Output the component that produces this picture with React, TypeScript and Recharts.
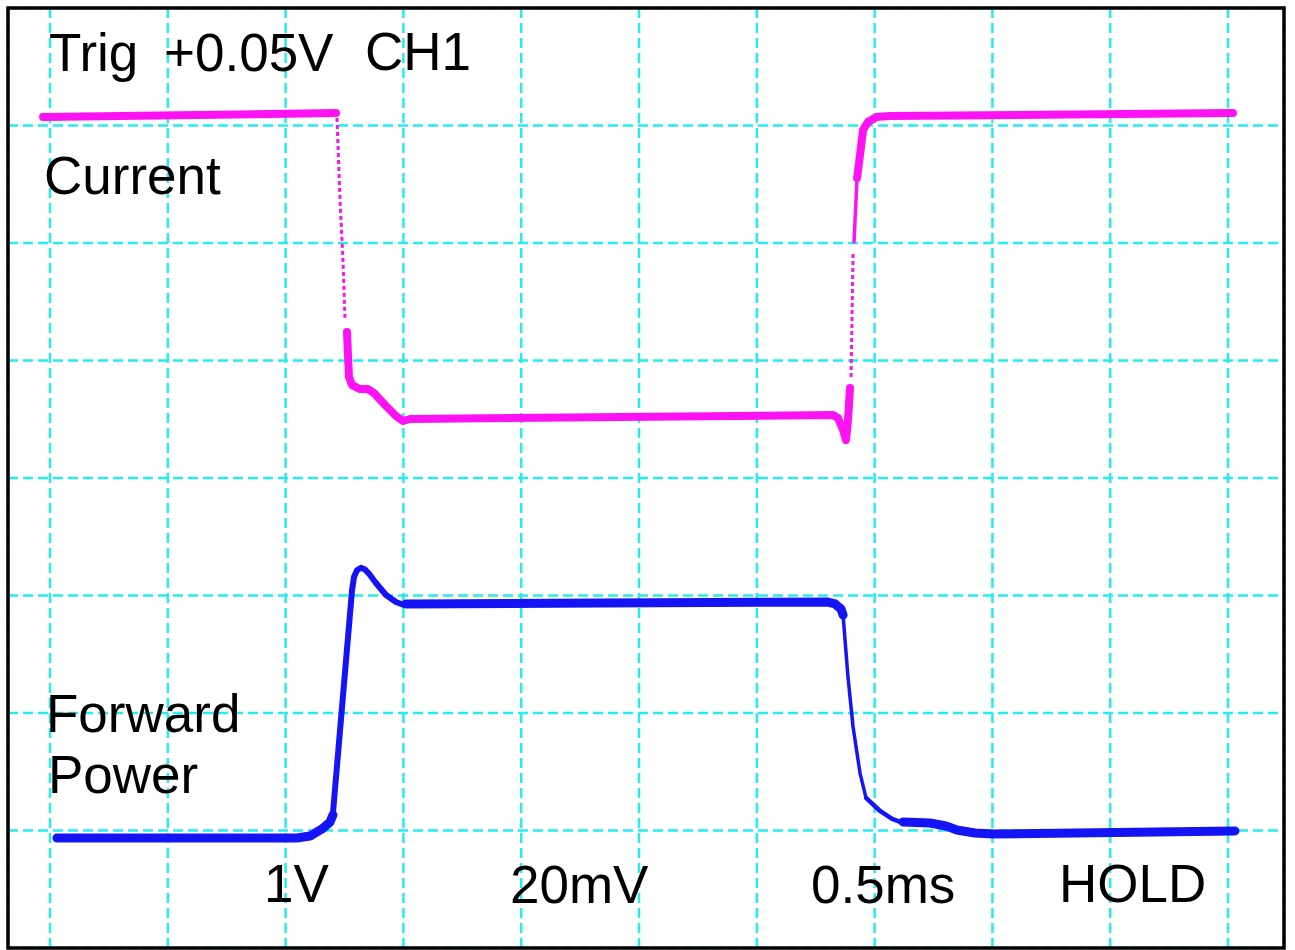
import { LineChart, Line, XAxis, YAxis, CartesianGrid, ReferenceArea } from "recharts"

// x in divisions (0.5ms/div), y in divisions from bottom of screen
type Pt = { x: number; y: number }

const xTicks = [0, 1, 2, 3, 4, 5, 6, 7, 8, 9, 10]
const yTicks = [1, 2, 3, 4, 5, 6, 7]

// Current (CH1) trace pieces
const currentHigh: Pt[] = [
  { x: -0.059, y: 7.072 },
  { x: 2.428, y: 7.106 },
]
const currentFallDots: Pt[] = [
  { x: 2.436, y: 7.064 },
  { x: 2.462, y: 6.366 },
  { x: 2.487, y: 5.855 },
  { x: 2.504, y: 5.362 },
]
const currentLow: Pt[] = [
  { x: 2.521, y: 5.243 },
  { x: 2.538, y: 4.86 },
  { x: 2.564, y: 4.791 },
  { x: 2.632, y: 4.757 },
  { x: 2.699, y: 4.757 },
  { x: 2.75, y: 4.723 },
  { x: 2.844, y: 4.621 },
  { x: 2.937, y: 4.528 },
  { x: 2.997, y: 4.485 },
  { x: 3.056, y: 4.502 },
  { x: 6.647, y: 4.536 },
  { x: 6.689, y: 4.511 },
  { x: 6.732, y: 4.409 },
  { x: 6.757, y: 4.323 },
  { x: 6.774, y: 4.494 },
  { x: 6.791, y: 4.766 },
]
const currentRiseDots: Pt[] = [
  { x: 6.8, y: 4.86 },
  { x: 6.817, y: 5.923 },
]
const currentRiseThin: Pt[] = [
  { x: 6.825, y: 6.009 },
  { x: 6.851, y: 6.553 },
]
const currentHigh2: Pt[] = [
  { x: 6.851, y: 6.553 },
  { x: 6.876, y: 6.749 },
  { x: 6.902, y: 6.962 },
  { x: 6.944, y: 7.03 },
  { x: 7.012, y: 7.072 },
  { x: 7.131, y: 7.081 },
  { x: 10.042, y: 7.106 },
]

// Forward power trace pieces
const powerLow: Pt[] = [
  { x: 0.059, y: 0.936 },
  { x: 2.097, y: 0.936 },
  { x: 2.207, y: 0.953 },
  { x: 2.309, y: 1.013 },
  { x: 2.377, y: 1.072 },
  { x: 2.402, y: 1.132 },
]
const powerRise: Pt[] = [
  { x: 2.402, y: 1.149 },
  { x: 2.564, y: 3.047 },
  { x: 2.581, y: 3.16 },
  { x: 2.606, y: 3.215 },
  { x: 2.64, y: 3.236 },
  { x: 2.674, y: 3.222 },
  { x: 2.708, y: 3.185 },
  { x: 2.767, y: 3.106 },
  { x: 2.852, y: 3.004 },
  { x: 2.937, y: 2.945 },
  { x: 3.005, y: 2.919 },
]
const powerHigh: Pt[] = [
  { x: 3.022, y: 2.928 },
  { x: 4.669, y: 2.936 },
  { x: 6.596, y: 2.945 },
  { x: 6.664, y: 2.928 },
  { x: 6.715, y: 2.885 },
  { x: 6.732, y: 2.834 },
]
const powerFall: Pt[] = [
  { x: 6.732, y: 2.834 },
  { x: 6.774, y: 2.306 },
  { x: 6.817, y: 1.881 },
  { x: 6.876, y: 1.489 },
  { x: 6.927, y: 1.277 },
]
const powerTail: Pt[] = [
  { x: 6.927, y: 1.277 },
  { x: 7.046, y: 1.166 },
  { x: 7.148, y: 1.098 },
  { x: 7.241, y: 1.064 },
]
const powerLow2: Pt[] = [
  { x: 7.241, y: 1.072 },
  { x: 7.47, y: 1.064 },
  { x: 7.606, y: 1.038 },
  { x: 7.699, y: 1.004 },
  { x: 7.852, y: 0.979 },
  { x: 8.005, y: 0.97 },
  { x: 10.059, y: 0.996 },
]

const X_MIN = -0.3565
const X_MAX = 10.475

const MAGENTA = "#fc12f2"
const BLUE = "#1414f4"
const GRID = "#26eded"
const FONT = "'Liberation Sans', Arial, sans-serif"

const seg = (key: string, data: Pt[], color: string, width: number, dash?: string) => (
  <Line
    key={key}
    data={data}
    dataKey="y"
    type="linear"
    stroke={color}
    strokeWidth={width}
    strokeDasharray={dash}
    strokeLinecap={dash ? "butt" : "round"}
    strokeLinejoin="round"
    dot={false}
    activeDot={false}
    isAnimationActive={false}
  />
)

export default function App() {
  const t = { fontFamily: FONT, fontSize: 53, fill: "#000" }
  return (
    <div style={{ position: "absolute", left: 0, top: 0, background: "#fff" }}>
      <LineChart width={1295} height={950} margin={{ top: 8, right: 11, bottom: 2, left: 8 }}>
        <XAxis dataKey="x" type="number" domain={[X_MIN, X_MAX]} ticks={xTicks} hide allowDuplicatedCategory={false} />
        <YAxis type="number" domain={[0, 8]} ticks={yTicks} hide />
        <CartesianGrid stroke={GRID} strokeWidth={2.5} strokeDasharray="10 5" />
        <ReferenceArea x1={X_MIN} x2={X_MAX} y1={0} y2={8} fill="none" stroke="#000" strokeWidth={3.5} fillOpacity={0} />
        {seg("c1", currentHigh, MAGENTA, 8)}
        {seg("c2", currentFallDots, MAGENTA, 3, "4 3")}
        {seg("c3", currentLow, MAGENTA, 8)}
        {seg("c4", currentRiseDots, MAGENTA, 3, "4 3")}
        {seg("c5", currentRiseThin, MAGENTA, 3.5)}
        {seg("c6", currentHigh2, MAGENTA, 8)}
        {seg("p1", powerLow, BLUE, 9)}
        {seg("p2", powerRise, BLUE, 6)}
        {seg("p3", powerHigh, BLUE, 9)}
        {seg("p4", powerFall, BLUE, 3.5)}
        {seg("p5", powerTail, BLUE, 4.5)}
        {seg("p6", powerLow2, BLUE, 9)}
        <text x={49} y={71} {...t}>Trig</text>
        <text x={164} y={71} {...t}>+0.05V</text>
        <text x={365} y={70} {...t}>CH1</text>
        <text x={44} y={194} {...t}>Current</text>
        <text x={46} y={732} {...t}>Forward</text>
        <text x={48} y={793} {...t}>Power</text>
        <text x={264} y={902} {...t}>1V</text>
        <text x={510} y={903} {...t}>20mV</text>
        <text x={811} y={903} {...t}>0.5ms</text>
        <text x={1059} y={902} {...t}>HOLD</text>
      </LineChart>
    </div>
  )
}
